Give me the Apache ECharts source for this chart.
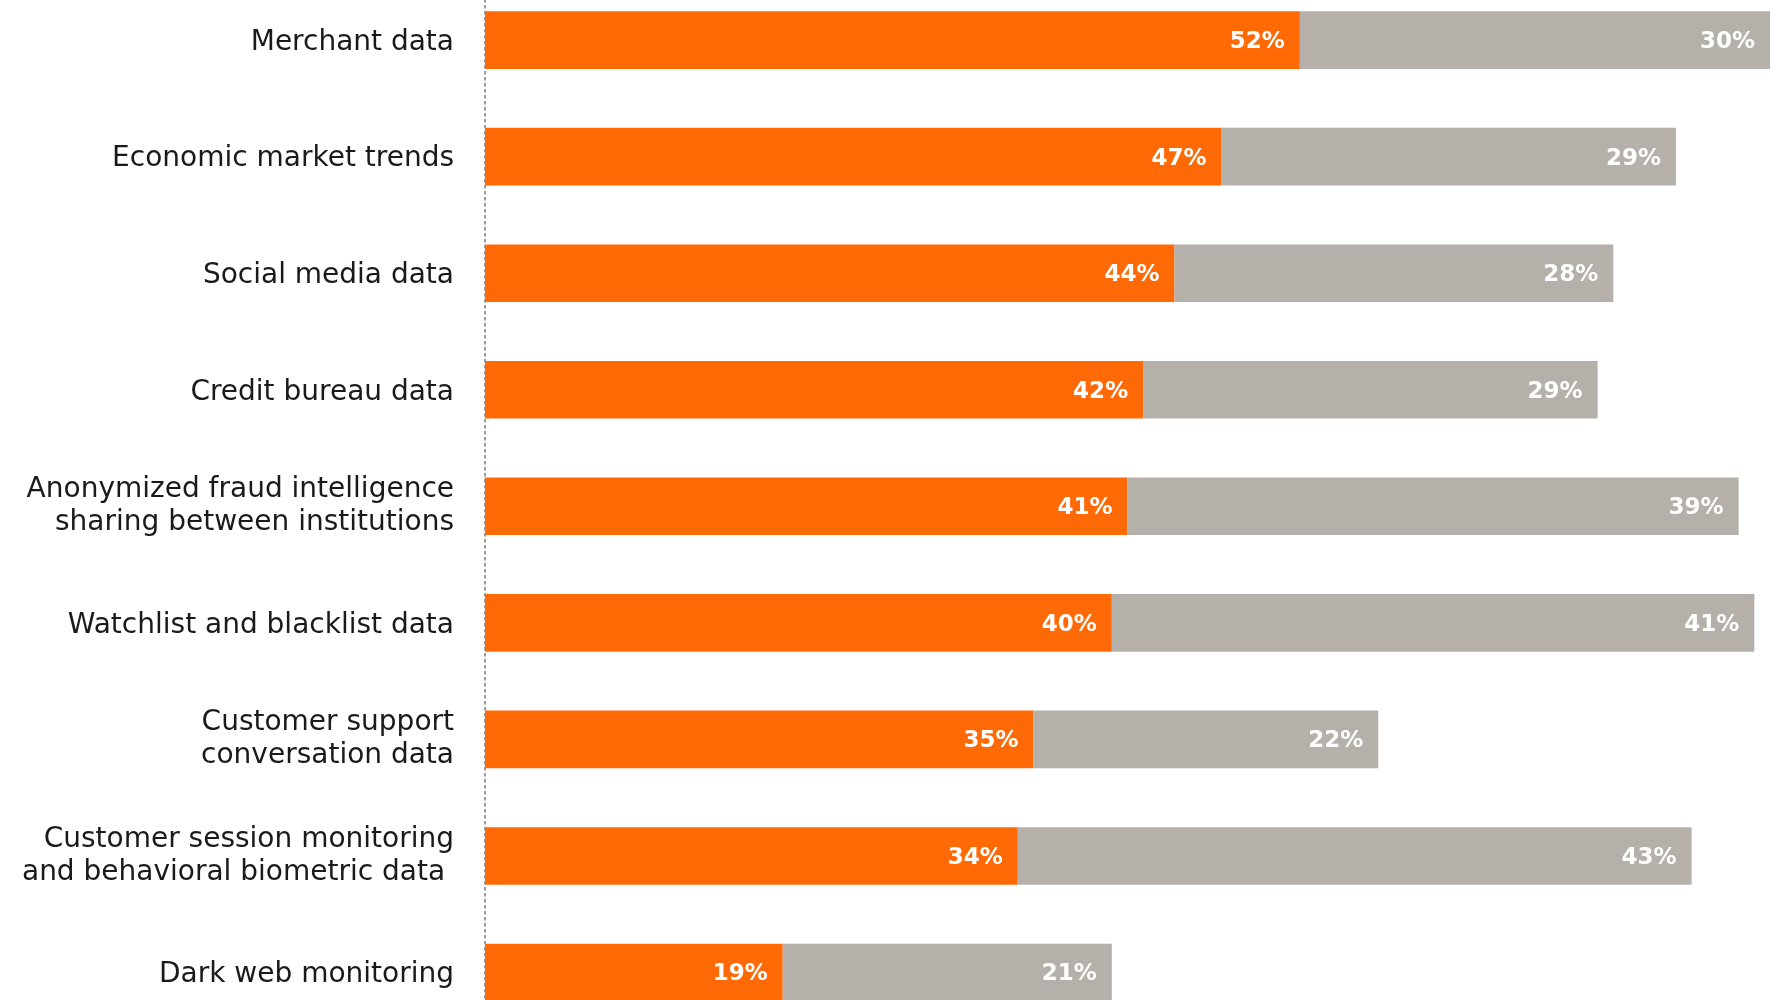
<!DOCTYPE html>
<html>
<head>
<meta charset="utf-8">
<script src="https://cdn.jsdelivr.net/npm/echarts@6/dist/echarts.min.js"></script>
<style>
  html, body { margin: 0; padding: 0; background: #ffffff; }
  #chart { width: 1770px; height: 1000px; }
</style>
</head>
<body>
<div id="chart"></div>
<script>
// Data sources, top to bottom
const categories = [
  'Merchant data',
  'Economic market trends',
  'Social media data',
  'Credit bureau data',
  'Anonymized fraud intelligence\nsharing between institutions',
  'Watchlist and blacklist data',
  'Customer support\nconversation data',
  'Customer session monitoring\nand behavioral biometric data ',
  'Dark web monitoring'
];
// First segment (orange) and second segment (grey), in percent
const primaryValues = [52, 47, 44, 42, 41, 40, 35, 34, 19];
const secondaryValues = [30, 29, 28, 29, 39, 41, 22, 43, 21];

const FONT = '"DejaVu Sans", "Noto Sans", sans-serif';

const chart = echarts.init(document.getElementById('chart'), null, { renderer: 'canvas' });

// Percent labels sit just inside the right end of each segment
const valueLabel = {
  show: true,
  position: 'insideRight',
  distance: 15,
  formatter: p => '{v|' + p.value + '%}',
  rich: {
    v: {
      color: '#ffffff',
      fontFamily: FONT,
      fontSize: 23,
      fontWeight: 600,
      padding: [4, 0, 0, 0]
    }
  }
};

const catTextStyle = {
  color: '#1a1a1a',
  fontFamily: FONT,
  fontSize: 28,
  lineHeight: 33
};

chart.setOption({
  animation: false,
  backgroundColor: '#ffffff',
  grid: {
    left: 485,
    right: 0,
    top: -18.2,
    bottom: -30.8,
    containLabel: false,
    outerBoundsMode: 'none'
  },
  xAxis: {
    type: 'value',
    min: 0,
    max: 82,
    show: false
  },
  yAxis: {
    type: 'category',
    inverse: true,
    data: categories,
    axisTick: { show: false },
    axisLine: {
      show: true,
      lineStyle: { color: '#9a9a9a', width: 2, type: [2, 4] }
    },
    axisLabel: {
      margin: 31,
      color: '#1a1a1a',
      fontFamily: FONT,
      fontSize: 28,
      lineHeight: 33,
      align: 'right',
      // single-line names get a small top pad to sit on the bar's centre
      formatter: v => {
        const lines = v.split('\n');
        const key = lines.length === 1 ? 'one' : 'multi';
        return lines.map(s => '{' + key + '|' + s + '}').join('\n');
      },
      rich: {
        one: Object.assign({ padding: [5, 0, 0, 0] }, catTextStyle),
        multi: Object.assign({ padding: [0, 0, 0, 0] }, catTextStyle)
      }
    }
  },
  series: [
    {
      name: 'Primary',
      type: 'bar',
      stack: 'total',
      barWidth: 57.6,
      data: primaryValues,
      itemStyle: { color: '#ff6a06' },
      label: valueLabel
    },
    {
      name: 'Secondary',
      type: 'bar',
      stack: 'total',
      barWidth: 57.6,
      data: secondaryValues,
      itemStyle: { color: '#b5b0a9' },
      label: valueLabel
    }
  ]
});
</script>
</body>
</html>
